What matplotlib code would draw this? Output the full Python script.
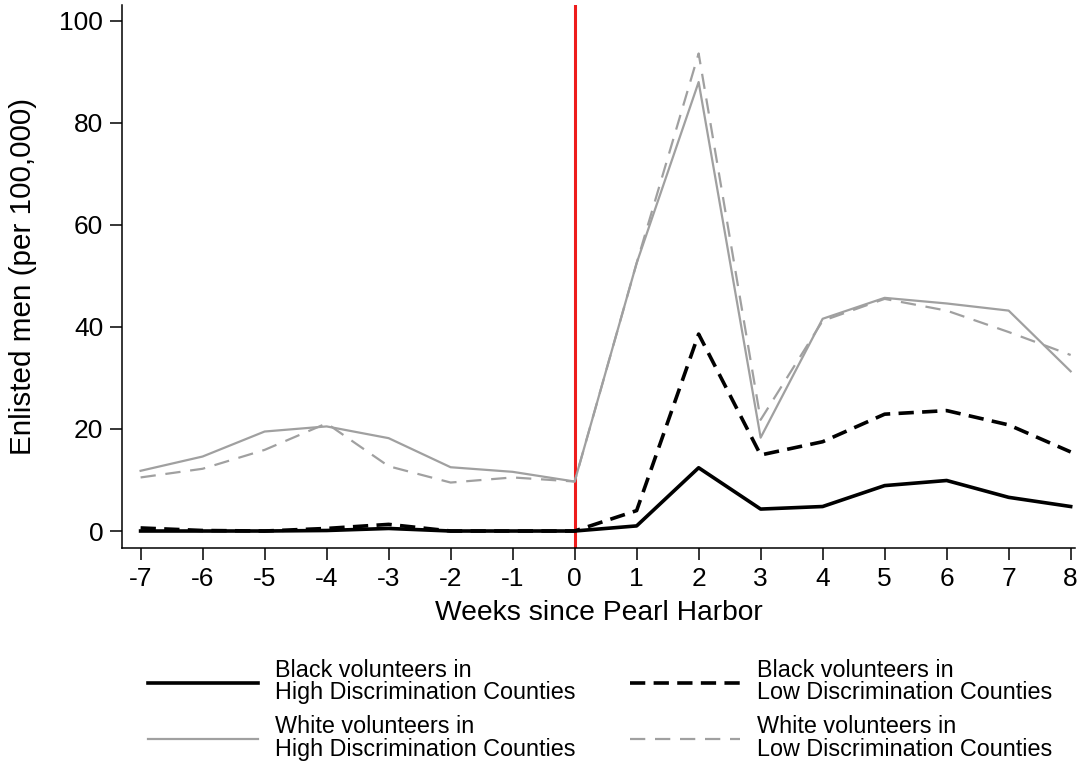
import matplotlib
matplotlib.use("Agg")
import matplotlib.pyplot as plt

plt.rcParams['font.family'] = ['Liberation Sans', 'DejaVu Sans']
plt.rcParams['lines.scale_dashes'] = False
plt.rcParams['axes.unicode_minus'] = False

weeks = list(range(-7, 9))
black_high = [0.0, 0.0, 0.0, 0.1, 0.5, 0.0, 0.0, 0.0, 1.0, 12.4, 4.3, 4.8, 8.9, 9.9, 6.6, 4.8]
black_low = [0.6, 0.1, 0.0, 0.5, 1.3, 0.0, 0.0, 0.0, 4.0, 38.6, 14.9, 17.5, 22.9, 23.6, 20.8, 15.5]
white_high = [11.8, 14.6, 19.5, 20.5, 18.2, 12.5, 11.6, 9.7, 52.5, 88.0, 18.3, 41.6, 45.7, 44.6, 43.2, 31.3]
white_low = [10.5, 12.2, 15.9, 21.1, 12.7, 9.5, 10.5, 9.7, 52.5, 93.6, 21.8, 41.2, 45.5, 43.2, 39.0, 34.5]
yticks = [0, 20, 40, 60, 80, 100]

labels = ["Black volunteers in\nHigh Discrimination Counties",
          "White volunteers in\nHigh Discrimination Counties",
          "Black volunteers in\nLow Discrimination Counties",
          "White volunteers in\nLow Discrimination Counties"]

grey = '#a0a0a0'
fig = plt.figure(figsize=(10.83, 7.62), dpi=100)
ax = fig.add_axes([122/1083, 1 - 548/762, (1075 - 122)/1083, (548 - 5)/762])

ax.axvline(0, color='#ee1c1c', lw=2.2, zorder=2)
l_wh, = ax.plot(weeks, white_high, color=grey, lw=1.6, zorder=3)
l_wl, = ax.plot(weeks, white_low, color=grey, lw=1.6, dashes=(11, 7), zorder=3)
l_bl, = ax.plot(weeks, black_low, color='black', lw=2.6, dashes=(11, 6), zorder=4)
l_bh, = ax.plot(weeks, black_high, color='black', lw=2.6, zorder=4)

ax.set_xlim(-7.3, 8.07)
ax.set_ylim(-3.33, 103.1)
ax.set_xticks(weeks)
ax.set_xticklabels([str(w) for w in weeks])
ax.set_yticks(yticks)
ax.set_yticklabels([str(t) for t in yticks])
for s in ['top', 'right']:
    ax.spines[s].set_visible(False)
for s in ['left', 'bottom']:
    ax.spines[s].set_linewidth(1.1)
ax.tick_params(axis='both', direction='out', length=8.5, width=1.1, labelsize=19, pad=5)
ax.set_xlabel('Weeks since Pearl Harbor', fontsize=20.3, labelpad=7)
ax.set_ylabel('Enlisted men (per 100,000)', fontsize=21.3, labelpad=16)

common = dict(frameon=False, fontsize=16.8, handlelength=4.7, handletextpad=0.75,
              labelspacing=0.47, borderpad=0, borderaxespad=0, loc='upper left')
leg1 = fig.legend([l_bh, l_wh], labels[:2], bbox_to_anchor=(148/1083, 1 - 659/762), **common)
leg2 = fig.legend([l_bl, l_wl], labels[2:], bbox_to_anchor=(630/1083, 1 - 659/762), **common)
for leg in (leg1, leg2):
    for t in leg.get_texts():
        t.set_linespacing(0.97)

fig.savefig('out.png', dpi=100)
